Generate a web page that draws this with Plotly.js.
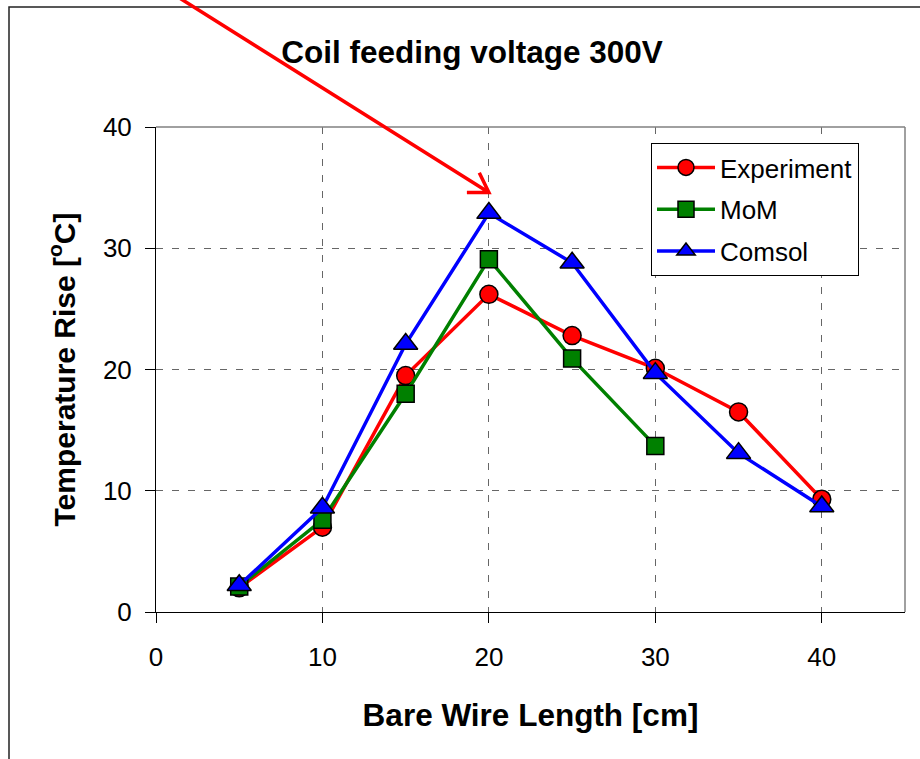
<!DOCTYPE html>
<html>
<head>
<meta charset="utf-8">
<script src="https://cdn.plot.ly/plotly-3.0.1.min.js"></script>
<style>html,body{margin:0;padding:0;background:#fff;}#chart{width:920px;height:759px;}</style>
</head>
<body>
<div id="chart"></div>
<script>
// Data
const wireLength = [5, 10, 15, 20, 25, 30, 35, 40];          // Bare Wire Length [cm]
const experiment = [2.0, 7.0, 19.5, 26.2, 22.8, 20.1, 16.5, 9.3];
const momLength  = [5, 10, 15, 20, 25, 30];
const mom        = [2.1, 7.6, 18.0, 29.1, 20.9, 13.7];
const comsol     = [2.2, 8.6, 22.1, 32.9, 28.8, 19.7, 13.1, 8.7];
const seriesNames = ['Experiment', 'MoM', 'Comsol'];
const xTickVals = [0, 10, 20, 30, 40];
const yTickVals = [0, 10, 20, 30, 40];
const xRange = [0, 45];
const yRange = [0, 40];
const arrowTarget = {x: 20, y: 34.6};

const FONT = 'Liberation Sans, Arial, Helvetica, sans-serif';

const traces = [
  {x: wireLength, y: experiment, name: seriesNames[0], legendgroup: 'g1', type: 'scatter', mode: 'lines+markers',
   line: {color: '#FF0000', width: 3.5},
   marker: {symbol: 'circle', size: 18, color: '#FF0000', line: {color: '#000', width: 1.5}}},
  {x: momLength, y: mom, name: seriesNames[1], legendgroup: 'g2', type: 'scatter', mode: 'lines+markers',
   line: {color: '#008000', width: 3.5},
   marker: {symbol: 'square', size: 17, color: '#008000', line: {color: '#000', width: 1.5}}},
  {x: wireLength, y: comsol, name: seriesNames[2], legendgroup: 'g3', type: 'scatter', mode: 'lines+markers',
   line: {color: '#0000FF', width: 3.5},
   marker: {symbol: 'triangle-up', size: 21, color: '#0000FF', line: {color: '#000', width: 1.5}}}
];

const axAnchorX = (arrowTarget.x - xRange[0]) / (xRange[1] - xRange[0]);
const axAnchorY = (arrowTarget.y - yRange[0]) / (yRange[1] - yRange[0]);

const layout = {
  width: 920, height: 759,
  margin: {l: 156, r: 15, t: 127, b: 147},
  paper_bgcolor: '#fff', plot_bgcolor: '#fff',
  font: {family: FONT, color: '#000'},
  showlegend: true,
  title: {text: 'Coil feeding voltage 300V', x: 0.513, xref: 'container', xanchor: 'center',
          y: 1 - 52/759, yref: 'container', yanchor: 'middle',
          font: {family: FONT, size: 31.5, weight: 'bold', color: '#000'}},
  xaxis: {
    range: xRange, tickvals: xTickVals, ticktext: xTickVals.map(String),
    showline: true, linecolor: '#000', linewidth: 1, mirror: false,
    ticks: 'outside', ticklen: 10, tickcolor: '#000', tickwidth: 1,
    ticklabelstandoff: 12,
    showgrid: true, gridcolor: '#666', gridwidth: 1, griddash: '7px,9px',
    zeroline: false, automargin: false,
    tickfont: {family: FONT, size: 26, color: '#000'},
    title: {text: 'Bare Wire Length [cm]', standoff: 32,
            font: {family: FONT, size: 31.5, weight: 'bold', color: '#000'}}
  },
  yaxis: {
    range: yRange, tickvals: yTickVals, ticktext: yTickVals.map(String),
    showline: true, linecolor: '#000', linewidth: 1, mirror: false,
    ticks: 'outside', ticklen: 10, tickcolor: '#000', tickwidth: 1,
    ticklabelstandoff: 8,
    showgrid: true, gridcolor: '#666', gridwidth: 1, griddash: '7px,9px',
    zeroline: false, automargin: false,
    tickfont: {family: FONT, size: 26, color: '#000'},
    title: {text: 'Temperature Rise [<sup>o</sup>C]', standoff: 18,
            font: {family: FONT, size: 30, weight: 'bold', color: '#000'}}
  },
  legend: {
    x: (651 - 156) / 749, y: (612 - 143) / 485, xanchor: 'left', yanchor: 'top',
    bgcolor: '#fff', bordercolor: '#000', borderwidth: 1,
    font: {family: FONT, size: 26, color: '#000'},
    itemwidth: 58, traceorder: 'grouped', tracegroupgap: 5
  },
  shapes: [
    // gray top and right frame of the plot area
    {type: 'line', xref: 'paper', yref: 'paper', x0: 0, x1: 1, y0: 1, y1: 1, line: {color: '#808080', width: 1.5}},
    {type: 'line', xref: 'paper', yref: 'paper', x0: 1, x1: 1, y0: 0, y1: 1, line: {color: '#808080', width: 1.5}},
    // outer chart border
    {type: 'rect', xref: 'paper', yref: 'paper', x0: (9 - 156) / 749, x1: 1.2, y0: -0.5, y1: (612 - 7) / 485,
     line: {color: '#222', width: 1.5}, fillcolor: 'rgba(0,0,0,0)', layer: 'below'},
    // red arrow pointing to the peak
    {type: 'path', xref: 'paper', yref: 'paper', xsizemode: 'pixel', ysizemode: 'pixel',
     xanchor: axAnchorX, yanchor: axAnchorY,
     path: 'M-315,198 L0,0 M-22,0 L0,0 L-9.6,19.8',
     line: {color: '#FF0000', width: 3.5}}
  ]
};

Plotly.newPlot('chart', traces, layout, {displayModeBar: false, staticPlot: true});
</script>
</body>
</html>
